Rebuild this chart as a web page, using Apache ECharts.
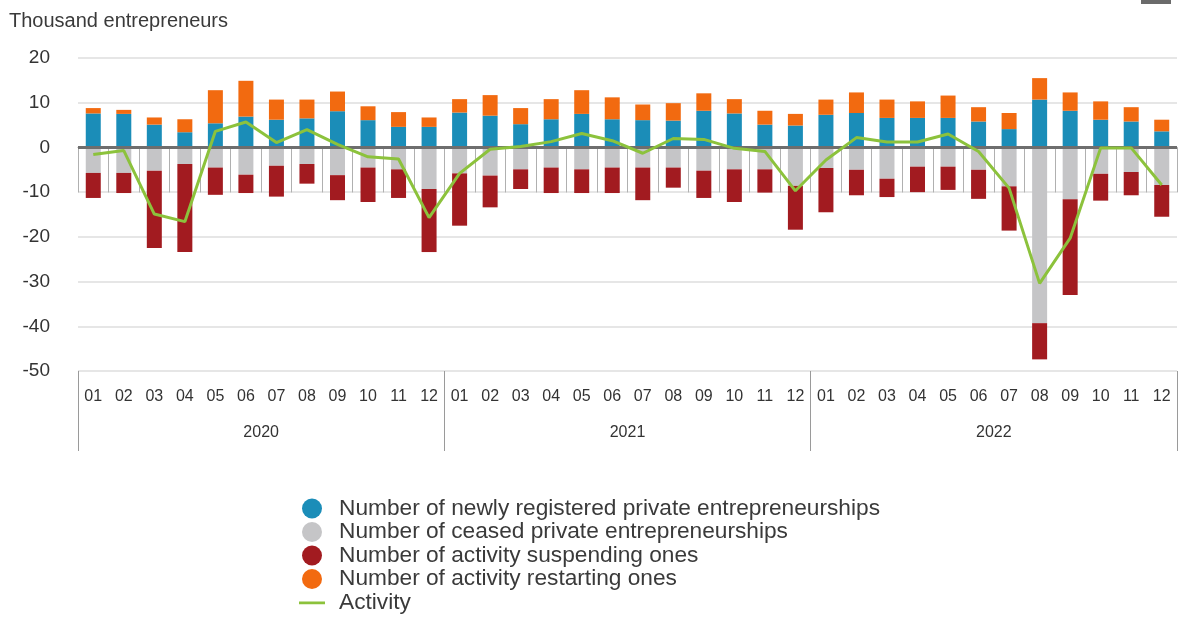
<!DOCTYPE html>
<html>
<head>
<meta charset="utf-8">
<script src="https://cdn.jsdelivr.net/npm/echarts@6/dist/echarts.min.js"></script>
<style>
  html, body { margin: 0; padding: 0; background: #fff; }
  #chart { width: 1183px; height: 623px; }
</style>
</head>
<body>
<div id="chart"></div>
<script>
// Monthly labels and years
const months = ['01','02','03','04','05','06','07','08','09','10','11','12'];
const years = ['2020', '2021', '2022'];
const categories = [];
years.forEach(function () { months.forEach(function (m) { categories.push(m); }); });

// Thousand entrepreneurs per month, 2020-01 .. 2022-12
const newlyRegistered = [7.6,7.5,5.1,3.4,5.4,6.9,6.2,6.5,8.1,6.1,4.6,4.6,
                         7.8,7.1,5.2,6.3,7.5,6.3,6.1,6.0,8.2,7.6,5.1,4.9,
                         7.3,7.7,6.6,6.6,6.6,5.8,4.1,10.7,8.2,6.2,5.8,3.6];
const ceased = [-5.7,-5.7,-5.2,-3.7,-4.5,-6.1,-4.1,-3.7,-6.2,-4.5,-4.9,-9.3,
                -5.8,-6.3,-4.9,-4.5,-4.9,-4.5,-4.5,-4.5,-5.2,-4.9,-4.9,-8.6,
                -4.6,-5.0,-7.0,-4.3,-4.3,-5.0,-8.7,-39.3,-11.6,-5.9,-5.5,-8.4];
const suspending = [-5.6,-4.5,-17.3,-19.7,-6.1,-4.1,-6.9,-4.4,-5.6,-7.7,-6.4,-14.1,
                    -11.7,-7.1,-4.4,-5.7,-5.3,-5.7,-7.3,-4.5,-6.1,-7.3,-5.2,-9.8,
                    -9.9,-5.7,-4.1,-5.7,-5.2,-6.5,-9.9,-8.1,-21.4,-6.0,-5.2,-7.1];
const restarting = [1.2,0.9,1.6,2.9,7.4,8.0,4.5,4.2,4.4,3.1,3.3,2.1,
                    3.0,4.6,3.6,4.5,5.3,4.9,3.5,3.9,3.9,3.2,3.1,2.6,
                    3.4,4.6,4.1,3.7,5.0,3.2,3.6,4.8,4.1,4.1,3.2,2.6];
const activity = [-1.6,-0.7,-14.9,-16.6,3.6,5.7,1.1,4.0,0.7,-2.1,-2.6,-15.7,
                  -5.8,-0.4,0.2,1.3,3.1,1.5,-1.3,2.0,1.8,-0.2,-0.9,-9.7,
                  -2.8,2.2,1.2,1.2,3.0,-0.9,-9.1,-30.4,-20.3,-0.1,-0.1,-8.4];
const yTicks = { min: -50, max: 20, interval: 10 };

const names = [
  'Number of newly registered private entrepreneurships',
  'Number of ceased private entrepreneurships',
  'Number of activity suspending ones',
  'Number of activity restarting ones',
  'Activity'
];
const colors = ['#1b8db8', '#c5c5c7', '#a21b20', '#f26a10', '#8cc23c'];
const font = '"Liberation Sans", Arial, sans-serif';

// Legend marker for the line: a thin bar centred in a taller, otherwise empty box
const lineIcon = 'path://M0,0h0.01v0.01h-0.01z M0,9h28v3h-28z M0,20h0.01v0.01h-0.01z';

const chart = echarts.init(document.getElementById('chart'), null, { renderer: 'canvas' });

function barSeries(i, data) {
  return {
    name: names[i], type: 'bar', stack: 'total', data: data,
    barWidth: 15, itemStyle: { color: colors[i] }, z: 2
  };
}

chart.setOption({
  animation: false,
  textStyle: { fontFamily: font },
  graphic: [
    { type: 'text', left: 9, top: 11,
      style: { text: 'Thousand entrepreneurs', fontSize: 20, fill: '#3a3a3a', fontFamily: font } },
    { type: 'rect', shape: { x: 1141, y: -10, width: 30, height: 14 },
      style: { fill: '#6b6b6b' } }
  ],
  grid: { left: 78, right: 6, top: 58, bottom: 252, containLabel: false },
  legend: {
    orient: 'vertical', left: 299, top: 497, height: 200, padding: 0,
    itemWidth: 26, itemHeight: 20, itemGap: 0.5,
    textStyle: { fontSize: 22.7, lineHeight: 22, color: '#3a3a3a', fontFamily: font,
                 padding: [0, 0, 0, 9] },
    data: [
      { name: names[0], icon: 'circle' },
      { name: names[1], icon: 'circle' },
      { name: names[2], icon: 'circle' },
      { name: names[3], icon: 'circle' },
      { name: names[4], icon: lineIcon }
    ]
  },
  xAxis: [
    {
      type: 'category', data: categories, position: 'bottom',
      axisLine: { lineStyle: { color: '#9a9a9a', width: 1 } },
      axisTick: { show: true, interval: 0, length: 45, lineStyle: { color: '#b0b0b0' } },
      axisLabel: { interval: 0, margin: 18, fontSize: 16, color: '#333' },
      splitLine: { show: false }
    },
    {
      type: 'category', data: years, position: 'bottom',
      axisLine: { show: false },
      axisTick: { show: true, length: 80, lineStyle: { color: '#9a9a9a' } },
      axisLabel: { margin: 54, fontSize: 16, color: '#333' },
      splitLine: { show: false }
    }
  ],
  yAxis: {
    type: 'value', min: yTicks.min, max: yTicks.max, interval: yTicks.interval,
    axisLine: { show: false }, axisTick: { show: false },
    axisLabel: { fontSize: 19, color: '#333', margin: 28 },
    splitLine: { lineStyle: { color: '#dedede', width: 1.5 } }
  },
  series: [
    barSeries(0, newlyRegistered),
    barSeries(1, ceased),
    barSeries(2, suspending),
    Object.assign(barSeries(3, restarting), {
      markLine: {
        silent: true, symbol: 'none', label: { show: false },
        lineStyle: { color: '#6e6e6e', width: 3, type: 'solid' },
        data: [{ yAxis: 0 }]
      }
    }),
    {
      name: names[4], type: 'line', data: activity, xAxisIndex: 0,
      symbol: 'none', z: 5,
      lineStyle: { color: colors[4], width: 3 },
      itemStyle: { color: colors[4] }
    }
  ]
});
</script>
</body>
</html>
